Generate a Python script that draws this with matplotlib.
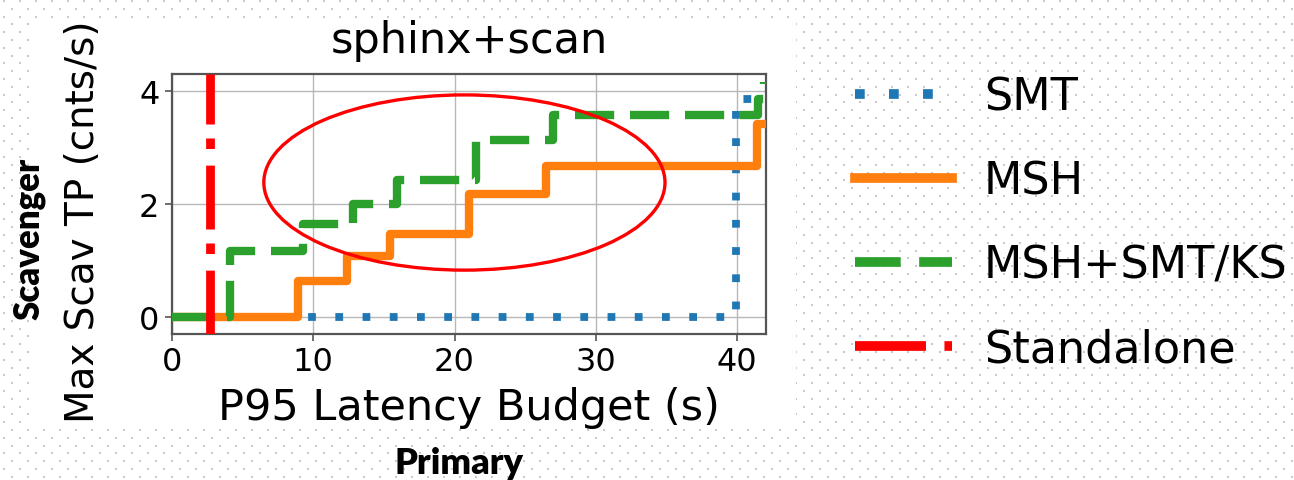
import numpy as np
import matplotlib
matplotlib.use("Agg")
import matplotlib.pyplot as plt
from matplotlib.patches import Ellipse, Rectangle

# ---------------- data ----------------
title = "sphinx+scan"
x_label = "P95 Latency Budget (s)"
y_label = "Max Scav TP (cnts/s)"
x_ticks = [0, 10, 20, 30, 40]
y_ticks = [0, 2, 4]

smt_x = [0, 39.9, 42.0]
smt_y = [0, 3.85, 3.85]

msh_x = [0, 8.9, 12.4, 15.4, 21.0, 26.5, 41.4, 42.0]
msh_y = [0, 0.63, 1.08, 1.47, 2.18, 2.68, 3.42, 3.42]

msh_smt_x = [0, 4.1, 9.3, 12.8, 15.9, 21.5, 27.0, 41.5, 41.9]
msh_smt_y = [0, 1.17, 1.64, 2.0, 2.42, 3.13, 3.57, 3.86, 4.15]

standalone_x = 2.7

labels = ["SMT", "MSH", "MSH+SMT/KS", "Standalone"]

# ---------------- figure ----------------
W, H = 1294, 481
fig = plt.figure(figsize=(W / 100, H / 100), dpi=100)
fig.patch.set_facecolor("white")

# slide background with dot grid
bg = fig.add_axes([0, 0, 1, 1], zorder=0)
bg.set_xlim(0, W)
bg.set_ylim(H, 0)
bg.axis("off")
rows = np.arange(2, H, 7.8)
pts_x, pts_y = [], []
for i, ry in enumerate(rows):
    xs = np.arange(4 + (8 if i % 2 else 0), W, 16)
    pts_x.extend(xs)
    pts_y.extend([ry] * len(xs))
bg.scatter(pts_x, pts_y, s=1.3, marker="s", color="#c9c9c9", linewidths=0)
bg.add_patch(Rectangle((30, 20), 766, 408, facecolor="white", edgecolor="none"))

# main axes
L, R, T, B = 172, 766, 75, 335
ax = fig.add_axes([L / W, 1 - B / H, (R - L) / W, (B - T) / H], zorder=2)

lw = 6.0
ax.plot(smt_x, smt_y, drawstyle="steps-post", color="#1f77b4", lw=5.6,
        linestyle=(0, (1, 2.5)), label=labels[0], zorder=3)
ax.plot(msh_x, msh_y, drawstyle="steps-post", color="#ff7f0e", lw=lw,
        linestyle="-", label=labels[1], zorder=3)
ax.plot(msh_smt_x, msh_smt_y, drawstyle="steps-post", color="#2ca02c", lw=lw,
        linestyle=(0, (4.7, 1.9)), label=labels[2], zorder=3)
ax.axvline(standalone_x, color="#ff0000", lw=6.3,
           linestyle=(0, (7.3, 1.9, 1.2, 1.6)), label=labels[3], zorder=4)

ax.add_patch(Ellipse((20.7, 2.38), 28.4, 3.1, fill=False, edgecolor="#ff0000",
                     lw=2.4, zorder=5))

ax.set_xlim(0, 42.05)
ax.set_ylim(-0.3, 4.3)
ax.set_xticks(x_ticks)
ax.set_yticks(y_ticks)
ax.grid(True, color="#b8b8b8", lw=1.0)
ax.set_axisbelow(True)
for s in ax.spines.values():
    s.set_color("#555555")
    s.set_linewidth(1.6)
ax.tick_params(labelsize=23, length=5, width=1.2, color="#555555", pad=4)

ax.set_xlabel(x_label, fontsize=31)
ax.xaxis.set_label_coords(0.5, -0.2)
ax.set_ylabel(y_label, fontsize=28)
ax.yaxis.set_label_coords(-0.118, 0.437)
ax.text(0.5, 1.085, title, transform=ax.transAxes, ha="center",
        va="baseline", fontsize=31)

# legend on the slide
handles, labs = ax.get_legend_handles_labels()
leg = fig.legend(handles, labs, loc="upper left",
                 bbox_to_anchor=(855 / W, 1 - 77 / H), frameon=False,
                 fontsize=32, handlelength=2.18, handletextpad=0.72,
                 labelspacing=0.92, borderpad=0, borderaxespad=0)
for line in leg.get_lines():
    line.set_linewidth(7)

# slide annotations
fig.text(29 / W, 1 - 239 / H, "Scavenger", rotation=90, ha="center",
         va="center", fontsize=25, fontweight="heavy", family="Lato")
fig.text(459 / W, 1 - 464 / H, "Primary", ha="center", va="center",
         fontsize=26, fontweight="heavy", family="Lato")

fig.savefig("out.png", dpi=100, facecolor="white")
